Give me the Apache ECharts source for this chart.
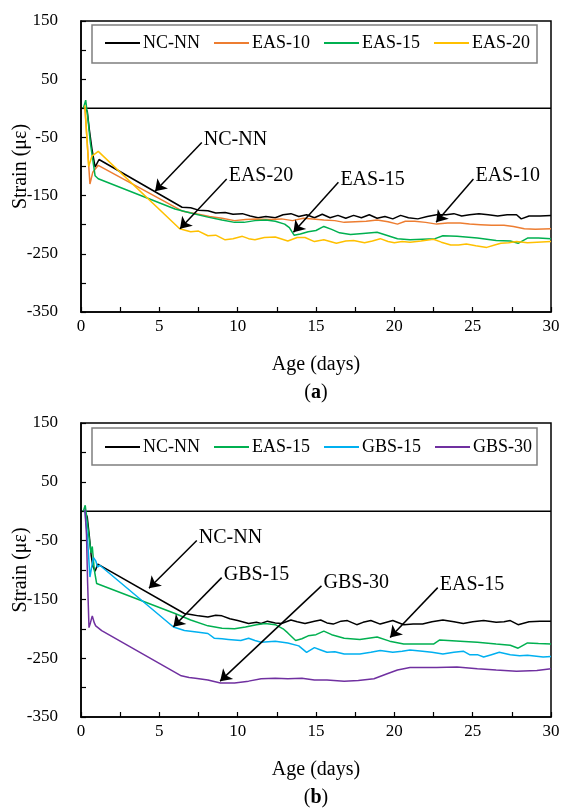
<!DOCTYPE html>
<html>
<head>
<meta charset="utf-8">
<script src="https://cdn.jsdelivr.net/npm/echarts@6/dist/echarts.min.js"></script>
<style>html,body{margin:0;padding:0;background:#fff}#c{width:561px;height:810px}</style>
</head>
<body>
<div id="c"></div>
<script>
// ---------- data: [age (days), strain (µε)] ----------
var A_NCNN = [[0.25,0],[0.4,-5],[0.53,-36],[0.7,-70],[0.9,-101],[1.15,-88],[6.45,-170],[7.0,-171],[7.5,-175],[8.1,-176],[8.6,-180],[9.2,-179],[9.7,-182],[10.3,-181],[10.8,-185],[11.3,-188],[11.8,-186],[12.4,-188],[12.9,-183],[13.4,-181],[13.9,-186],[14.4,-183],[14.9,-188],[15.4,-182],[15.9,-188],[16.4,-184],[16.9,-189],[17.4,-184],[17.9,-188],[18.4,-183],[18.9,-189],[19.4,-186],[19.9,-190],[20.4,-184],[20.9,-188],[21.5,-190],[22.1,-186],[22.7,-183],[23.3,-183],[23.8,-181],[24.3,-185],[24.8,-183],[25.4,-181],[26,-183],[26.6,-185],[27.2,-183],[27.8,-183],[28.1,-190],[28.6,-185],[29.3,-185],[30,-184]];
var A_EAS10 = [[0.25,0],[0.4,-60],[0.57,-130],[0.75,-110],[1.1,-98],[6.5,-177],[7.5,-182],[8.2,-186],[9,-189],[9.8,-193],[10.5,-191],[11.2,-190],[12,-191],[12.8,-190],[13.5,-193],[14.2,-189],[14.8,-190],[15.5,-192],[16.2,-193],[16.8,-196],[17.5,-195],[18.2,-194],[18.9,-192],[19.6,-195],[20.2,-199],[20.7,-194],[21.3,-194],[22,-196],[22.7,-199],[23.4,-197],[24.2,-197],[24.8,-199],[25.5,-200],[26.2,-201],[27,-201],[27.6,-203],[28.3,-207],[29,-208],[30,-207]];
var A_EAS15 = [[0.15,0],[0.3,14],[0.45,-20],[0.6,-60],[0.72,-58],[0.9,-116],[1.1,-121],[6.0,-173],[7,-180],[8.1,-187],[9,-192],[9.8,-196],[10.4,-196],[11.1,-193],[11.8,-192],[12.4,-194],[13,-199],[13.3,-205],[13.6,-218],[14,-216],[14.5,-212],[15,-210],[15.5,-203],[16,-208],[16.5,-214],[17.2,-217],[18,-215],[18.9,-213],[19.5,-218],[20.2,-224],[21,-226],[21.8,-225],[22.6,-224],[23.1,-219],[24,-220],[25.3,-223],[26.5,-227],[27.4,-228],[27.9,-232],[28.5,-223],[29.2,-223],[30,-224]];
var A_EAS20 = [[0.25,5],[0.35,-40],[0.49,-100],[0.7,-82],[1.1,-74],[6.3,-207],[7.0,-212],[7.5,-211],[8.1,-219],[8.6,-218],[9.2,-226],[9.7,-224],[10.3,-220],[10.7,-224],[11.1,-226],[11.7,-222],[12.4,-221],[13.2,-228],[13.8,-222],[14.3,-222],[14.9,-229],[15.5,-226],[16.3,-232],[16.9,-228],[17.4,-227],[18.1,-231],[18.6,-228],[19.1,-224],[19.6,-229],[20.0,-231],[20.5,-229],[21.0,-230],[21.7,-228],[22.5,-225],[23.0,-230],[23.6,-235],[24.1,-235],[24.6,-233],[25.2,-236],[25.9,-239],[26.4,-235],[26.8,-232],[27.3,-231],[27.8,-229],[28.5,-231],[29.1,-230],[30,-229]];

var B_NCNN = [[0.25,0],[0.4,-10],[0.53,-42],[0.65,-75],[0.75,-93],[0.9,-102],[1.07,-90],[6.6,-174],[7.1,-176],[7.5,-178],[8.1,-180],[8.6,-177],[9.0,-178],[9.5,-183],[10.0,-186],[10.7,-191],[11.2,-189],[11.5,-191],[11.9,-187],[12.4,-190],[12.8,-191],[13.4,-185],[13.8,-188],[14.3,-191],[14.9,-187],[15.3,-185],[15.7,-190],[16.1,-192],[16.6,-187],[17.0,-186],[17.6,-193],[18.0,-189],[18.5,-186],[19.1,-192],[19.5,-189],[19.9,-186],[20.6,-193],[21.2,-192],[21.8,-192],[22.4,-188],[23.1,-185],[23.8,-188],[24.4,-191],[25,-188],[25.7,-186],[26.5,-189],[27.0,-188],[27.4,-186],[27.9,-193],[28.6,-188],[29.3,-187],[30,-187]];
var B_EAS15 = [[0.15,0],[0.27,10],[0.45,-30],[0.64,-71],[0.72,-60],[0.85,-100],[1.0,-123],[6.0,-174],[7,-185],[8.1,-195],[9,-199],[9.8,-200],[10.5,-197],[11.2,-193],[11.75,-191],[12.4,-193],[12.9,-200],[13.2,-207],[13.7,-220],[14.1,-217],[14.5,-212],[15,-210],[15.5,-204],[16,-210],[16.8,-216],[17.8,-218],[18.9,-214],[19.7,-221],[20.6,-226],[21.6,-226],[22.5,-226],[22.9,-219],[24.2,-221],[25.3,-223],[26.5,-226],[27.4,-228],[27.9,-233],[28.5,-224],[29.2,-225],[30,-226]];
var B_GBS15 = [[0.25,0],[0.4,-40],[0.57,-112],[0.68,-95],[0.8,-79],[0.95,-85],[1.05,-95],[1.2,-92],[5.9,-197],[6.6,-203],[7.5,-206],[8.1,-208],[8.5,-216],[9.0,-217],[9.4,-218],[10.2,-220],[10.7,-216],[11.1,-220],[11.5,-223],[12.4,-221],[13.2,-224],[13.9,-229],[14.4,-240],[14.9,-232],[15.3,-236],[15.7,-240],[16.2,-239],[16.8,-243],[17.8,-243],[18.5,-240],[19.1,-237],[19.9,-240],[20.5,-238],[21.0,-236],[21.8,-238],[22.4,-240],[23.1,-243],[23.8,-240],[24.4,-238],[24.8,-244],[25.3,-244],[25.7,-248],[26.2,-244],[26.7,-240],[27.4,-244],[28.0,-246],[28.5,-245],[29.5,-248],[30,-247]];
var B_GBS30 = [[0.25,3],[0.35,-40],[0.42,-120],[0.51,-198],[0.6,-190],[0.72,-178],[0.85,-190],[0.94,-195],[1.32,-203],[6.4,-280],[6.9,-283],[7.3,-284],[8.1,-287],[8.9,-292],[9.8,-292],[10.7,-289],[11.5,-285],[12.4,-284],[13.2,-285],[14.1,-284],[14.9,-287],[15.7,-287],[16.8,-289],[17.7,-288],[18.7,-285],[19.5,-277],[20.2,-270],[21,-266],[22,-266],[22.7,-266],[24,-265],[25.3,-268],[26.5,-270],[27.8,-272],[29.1,-271],[30,-268]];

var ZERO_LINE = [[0,0],[30,0]];

// annotations: [label, tailX, tailY, headX, headY] in data units
var ARROWS_A = [['NC-NN',7.71,-58.6,4.73,-142.6],['EAS-20',9.3,-121.4,6.32,-207],['EAS-15',16.43,-127.2,13.56,-213],['EAS-10',25.05,-121.4,22.67,-195.7]];
var ARROWS_B = [['NC-NN',7.39,-49.8,4.34,-131],['GBS-15',8.98,-113,5.9,-196.6],['GBS-30',15.35,-127,8.88,-289],['EAS-15',22.77,-130,19.73,-214.7]];

var LEGEND_A = ['NC-NN','EAS-10','EAS-15','EAS-20'];
var LEGEND_B = ['NC-NN','EAS-15','GBS-15','GBS-30'];
var X_TICK_LABELS = [0,5,10,15,20,25,30];
var Y_TICK_LABELS = [-350,-250,-150,-50,50,150];

var COLORS = {'NC-NN':'#000000','EAS-10':'#ED7D31','EAS-15':'#00B050','EAS-20':'#FFC000','GBS-15':'#00B0F0','GBS-30':'#7030A0'};
var FONT = "'Liberation Serif', 'Times New Roman', serif";

function xAx(i){
  return {gridIndex:i,type:'value',min:0,max:30,interval:2.5,
    name:'Age (days)',nameLocation:'middle',nameGap:43,nameMoveOverlap:false,
    nameTextStyle:{fontSize:20,color:'#000',fontFamily:FONT},
    axisLine:{onZero:false,lineStyle:{color:'#000',width:1.5}},
    axisTick:{inside:true,length:5,lineStyle:{color:'#000',width:1.2}},
    axisLabel:{color:'#000',fontSize:17,margin:6,fontFamily:FONT,
      formatter:function(v){return X_TICK_LABELS.indexOf(v)>=0?String(v):'';}},
    splitLine:{show:false}};
}
function yAx(i){
  return {gridIndex:i,type:'value',min:-350,max:150,interval:50,
    name:'Strain (με)',nameLocation:'middle',nameGap:50,nameMoveOverlap:false,
    nameTextStyle:{fontSize:20,color:'#000',fontFamily:FONT},
    axisLine:{onZero:false,lineStyle:{color:'#000',width:1.5}},
    axisTick:{inside:true,length:5,lineStyle:{color:'#000',width:1.2}},
    axisLabel:{color:'#000',fontSize:17,margin:23,fontFamily:FONT,
      formatter:function(v){return Y_TICK_LABELS.indexOf(v)>=0?String(v):'';}},
    splitLine:{show:false}};
}
function ser(name,data,gi){
  return {name:name,type:'line',data:data,xAxisIndex:gi,yAxisIndex:gi,showSymbol:false,
    smooth:false,color:COLORS[name],
    lineStyle:{color:COLORS[name],width:1.5},z:3,silent:true};
}
function zeroSer(gi,arrows){
  return {name:'zero',type:'line',data:ZERO_LINE,xAxisIndex:gi,yAxisIndex:gi,showSymbol:false,
    color:'#000',lineStyle:{color:'#000',width:1.5},z:2,silent:true,
    markLine:{silent:true,symbol:['none','arrow'],symbolSize:11,
      lineStyle:{color:'#000',width:1.5,type:'solid'},label:{show:false},animation:false,
      data:arrows.map(function(a){return [{coord:[a[1],a[2]],symbol:'none'},{coord:[a[3],a[4]],symbol:'arrow'}];})},
    markPoint:{silent:true,symbol:'circle',symbolSize:0,animation:false,
      label:{show:true,position:'right',distance:2,offset:[0,-3],color:'#000',fontSize:20,fontFamily:FONT,
        formatter:function(p){return p.name;}},
      data:arrows.map(function(a){return {name:a[0],coord:[a[1],a[2]]};})}};
}
function legend(top,data){
  return {top:top,left:105,data:data,icon:'rect',itemWidth:35,itemHeight:2,itemGap:14,padding:0,
    selectedMode:false,textStyle:{fontSize:18,color:'#000',fontFamily:FONT,padding:[0,0,0,-2]}};
}

var chart = echarts.init(document.getElementById('c'),null,{renderer:'canvas'});
chart.setOption({
  animation:false,
  backgroundColor:'#fff',
  textStyle:{fontFamily:FONT},
  grid:[
    {left:81,top:21,width:470,height:291,show:true,borderColor:'#000',borderWidth:1.5,backgroundColor:'transparent',containLabel:false,outerBoundsMode:'none'},
    {left:81,top:423,width:470,height:294,show:true,borderColor:'#000',borderWidth:1.5,backgroundColor:'transparent',containLabel:false,outerBoundsMode:'none'}
  ],
  xAxis:[xAx(0),xAx(1)],
  yAxis:[yAx(0),yAx(1)],
  legend:[legend(34,LEGEND_A),legend(438,LEGEND_B)],
  graphic:[
    {type:'rect',shape:{x:92,y:25,width:445,height:38},style:{fill:'#fff',stroke:'#7f7f7f',lineWidth:1.5},z:1},
    {type:'rect',shape:{x:92,y:428,width:445,height:37},style:{fill:'#fff',stroke:'#7f7f7f',lineWidth:1.5},z:1},
    {type:'text',x:316,y:393,style:{text:'{p|(}{b|a}{p|)}',textAlign:'center',textVerticalAlign:'middle',
      rich:{p:{fontSize:20,fontFamily:FONT,fill:'#000'},b:{fontSize:20,fontFamily:FONT,fontWeight:'bold',fill:'#000'}}},z:5},
    {type:'text',x:316,y:798,style:{text:'{p|(}{b|b}{p|)}',textAlign:'center',textVerticalAlign:'middle',
      rich:{p:{fontSize:20,fontFamily:FONT,fill:'#000'},b:{fontSize:20,fontFamily:FONT,fontWeight:'bold',fill:'#000'}}},z:5}
  ],
  series:[
    zeroSer(0,ARROWS_A),
    ser('NC-NN',A_NCNN,0),ser('EAS-10',A_EAS10,0),ser('EAS-15',A_EAS15,0),ser('EAS-20',A_EAS20,0),
    zeroSer(1,ARROWS_B),
    ser('NC-NN',B_NCNN,1),ser('EAS-15',B_EAS15,1),ser('GBS-15',B_GBS15,1),ser('GBS-30',B_GBS30,1)
  ]
});
</script>
</body>
</html>
